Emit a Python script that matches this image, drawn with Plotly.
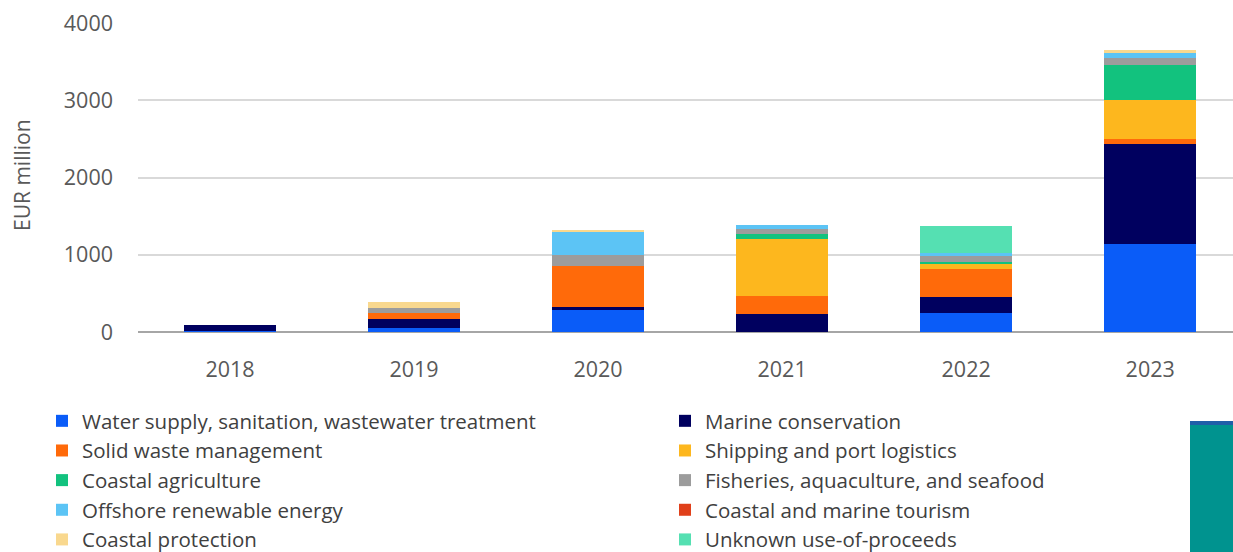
import plotly.graph_objects as go

years = ["2018", "2019", "2020", "2021", "2022", "2023"]

series_names = [
    "Water supply, sanitation, wastewater treatment",
    "Marine conservation",
    "Solid waste management",
    "Shipping and port logistics",
    "Coastal agriculture",
    "Fisheries, aquaculture, and seafood",
    "Offshore renewable energy",
    "Coastal and marine tourism",
    "Coastal protection",
    "Unknown use-of-proceeds",
]

water_supply = [15, 50, 290, 0, 240, 1135]
marine_conservation = [75, 120, 40, 235, 215, 1300]
solid_waste = [0, 80, 520, 235, 360, 65]
shipping = [0, 0, 0, 735, 65, 505]
coastal_agriculture = [0, 0, 0, 65, 30, 450]
fisheries = [0, 60, 150, 60, 80, 90]
offshore_energy = [0, 0, 300, 60, 30, 70]
tourism = [0, 0, 0, 0, 0, 0]
coastal_protection = [0, 80, 25, 0, 0, 35]
unknown_use = [0, 0, 0, 0, 350, 0]

series_values = [
    water_supply, marine_conservation, solid_waste, shipping,
    coastal_agriculture, fisheries, offshore_energy, tourism,
    coastal_protection, unknown_use,
]

colors = [
    "#0A5CF8", "#00005F", "#FF6A0A", "#FDB71E", "#12C27E",
    "#9C9C9C", "#5CC4F5", "#E0401A", "#F9D88E", "#55E0B2",
]

# which legend column each series appears in (reference legend is 2 columns)
legend_ids = ["legend", "legend2", "legend", "legend2", "legend",
              "legend2", "legend", "legend2", "legend", "legend2"]

y_ticks = [0, 1000, 2000, 3000, 4000]
y_title = "EUR million"

fig = go.Figure()
for name, vals, col, lg in zip(series_names, series_values, colors, legend_ids):
    fig.add_trace(go.Bar(
        x=years, y=vals, name=name, marker_color=col,
        marker_line_width=0, width=0.5, legend=lg,
    ))

W, H = 1233, 552
PL, PT, PB = 138, 23, 332
legend_common = dict(
    orientation="v",
    xref="container", yref="container",
    xanchor="left", yanchor="top",
    font=dict(size=20.5, color="#404040"),
    traceorder="normal",
    bgcolor="rgba(0,0,0,0)",
    y=1 - 401 / H,
)
fig.update_layout(
    width=W, height=H,
    barmode="stack",
    paper_bgcolor="white",
    plot_bgcolor="white",
    margin=dict(l=PL, r=0, t=PT, b=H - PB, autoexpand=False),
    font=dict(family="Open Sans, Noto Sans, sans-serif", color="#404040"),
    showlegend=True,
    legend=dict(legend_common, x=42 / W),
    legend2=dict(legend_common, x=665 / W),
    xaxis=dict(
        type="category",
        range=[-0.5, 5.45],
        showgrid=False,
        showline=False,
        ticks="",
        tickfont=dict(size=21.5, color="#595959"),
        ticklabelstandoff=22,
    ),
    yaxis=dict(
        range=[0, 4000],
        tickvals=y_ticks,
        ticktext=[str(v) for v in y_ticks],
        showgrid=True,
        gridcolor="#D9D9D9",
        gridwidth=1.5,
        zeroline=True,
        zerolinecolor="#A6A6A6",
        zerolinewidth=2,
        tickfont=dict(size=21.5, color="#595959"),
        ticklabelstandoff=24,
    ),
    annotations=[
        dict(text=y_title, textangle=-90, showarrow=False,
             xref="paper", yref="paper",
             x=(22 - PL) / (W - PL), y=(PB - 175) / (PB - PT),
             xanchor="center", yanchor="middle",
             font=dict(size=21, color="#595959")),
    ],
    shapes=[
        dict(type="rect", xref="paper", yref="paper",
             x0=(1190 - PL) / (W - PL), x1=1.0,
             y0=-(552 - PB) / (PB - PT), y1=-(423 - PB) / (PB - PT),
             fillcolor="#00938F", line=dict(width=0), layer="above"),
        dict(type="rect", xref="paper", yref="paper",
             x0=(1190 - PL) / (W - PL), x1=1.0,
             y0=-(425 - PB) / (PB - PT), y1=-(421 - PB) / (PB - PT),
             fillcolor="#1F5FA8", line=dict(width=0), layer="above"),
    ],
)

fig.write_html("out.html")
